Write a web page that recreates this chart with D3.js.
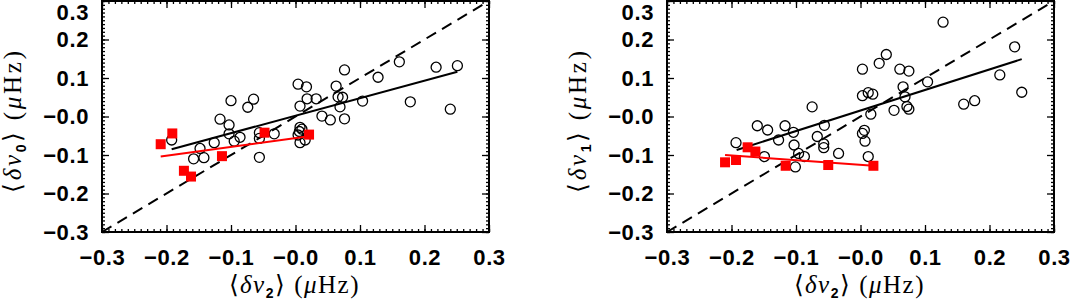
<!DOCTYPE html>
<html>
<head>
<meta charset="utf-8">
<script src="https://cdn.jsdelivr.net/npm/d3@7"></script>
<style>
  body { margin: 0; background: white; }
  svg { display: block; }
</style>
</head>
<body>
<script>
// ---------------------------------------------------------------- DATA ---- //
var tickValues = [-0.3, -0.2, -0.1, 0.0, 0.1, 0.2, 0.3];
var tickLabels = ["\u22120.3", "\u22120.2", "\u22120.1", "\u22120.0", "0.1", "0.2", "0.3"];

// left panel : <dnu2> vs <dnu0>
var leftCircleX = [-0.192, -0.148, -0.158, -0.142, -0.126, -0.117, -0.103, -0.100, -0.103, -0.095,
                   -0.086, -0.074, -0.065, -0.056, -0.056, -0.056, -0.033, 0.004, 0.017, 0.018,
                    0.007, 0.032, 0.041, 0.054, 0.007, 0.006, 0.004, 0.010, 0.007, 0.015,
                    0.063, 0.066, 0.073, 0.069, 0.076, 0.076, 0.104, 0.128, 0.161, 0.178,
                    0.218, 0.240, 0.251];
var leftCircleY = [-0.061, -0.083, -0.110, -0.107, -0.068, -0.007, -0.022, 0.041, -0.045, -0.064,
                   -0.054, 0.024, 0.045, -0.042, -0.057, -0.106, -0.045, 0.084, 0.077, 0.046,
                    0.027, 0.046, 0.001, -0.009, -0.028, -0.039, -0.048, -0.033, -0.068, -0.061,
                    0.079, 0.051, 0.050, 0.025, 0.121, -0.006, 0.040, 0.102, 0.142, 0.038,
                    0.128, 0.019, 0.132];
var leftSquareX = [-0.209, -0.191, -0.173, -0.162, -0.114, -0.048, 0.021];
var leftSquareY = [-0.072, -0.044, -0.141, -0.156, -0.103, -0.042, -0.047];
var leftBlackFitX = [-0.192, 0.251];
var leftBlackFitY = [-0.085, 0.116];
var leftRedFitX = [-0.209, 0.021];
var leftRedFitY = [-0.104, -0.051];

// right panel : <dnu2> vs <dnu1>
var rightCircleX = [-0.193, -0.160, -0.144, -0.149, -0.127, -0.117, -0.104, -0.103, -0.096, -0.087,
                    -0.101, -0.075, -0.067, -0.056, -0.057, -0.057, -0.034, 0.003, 0.003, 0.012,
                     0.019, 0.016, 0.003, 0.006, 0.007, 0.012, 0.029, 0.040, 0.052, 0.061,
                     0.075, 0.066, 0.069, 0.072, 0.075, 0.104, 0.128, 0.160, 0.177, 0.216,
                     0.239, 0.250];
var rightCircleY = [-0.068, -0.024, -0.035, -0.104, -0.061, -0.024, -0.041, -0.074, -0.096, -0.104,
                    -0.131, 0.025, -0.052, -0.023, -0.071, -0.081, -0.096, 0.123, 0.054, 0.062,
                     0.058, 0.006, -0.044, -0.036, -0.064, -0.104, 0.138, 0.161, 0.016, 0.123,
                     0.118, 0.077, 0.051, 0.026, 0.019, 0.090, 0.245, 0.032, 0.041, 0.108,
                     0.181, 0.063];
var rightSquareX = [-0.210, -0.193, -0.175, -0.163, -0.116, -0.050, 0.020];
var rightSquareY = [-0.119, -0.113, -0.080, -0.091, -0.128, -0.126, -0.128];
var rightBlackFitX = [-0.192, 0.250];
var rightBlackFitY = [-0.087, 0.149];
var rightRedFitX = [-0.210, 0.020];
var rightRedFitY = [-0.100, -0.128];

// -------------------------------------------------------------- LAYOUT ---- //
var svg = d3.select("body")
    .append("svg")
    .attr("width", 1071)
    .attr("height", 301);

var top_y = 1, bottom_y = 232;
var labelFont = "'Liberation Sans', Arial, sans-serif";
var titleFont = "'Liberation Serif', 'Times New Roman', serif";

function zip(xs, ys) {
    return xs.map(function(x, i) { return { x: x, y: ys[i] }; });
}

function axisTitle(g, sub) {
    g.append("tspan").text("\u27e8");
    g.append("tspan").text("\u03b4\u03bd").style("font-style", "italic");
    g.append("tspan").text(sub)
        .style("font-family", labelFont)
        .style("font-weight", "bold")
        .style("font-size", "14px")
        .attr("dy", 5);
    g.append("tspan").text("\u27e9 (").attr("dy", -5);
    g.append("tspan").text("\u03bc").style("font-style", "italic");
    g.append("tspan").text("Hz)");
}

function drawPanel(x0, x1, circleX, circleY, squareX, squareY, bfx, bfy, rfx, rfy, ySub)
{
    var x = d3.scaleLinear().domain([-0.3, 0.3]).range([x0, x1]);
    var y = d3.scaleLinear().domain([-0.3, 0.3]).range([bottom_y, top_y]);
    var minor = d3.range(-30, 31).map(function(i) { return i / 100; });

    var g = svg.append("g");

    // minor ticks on all four sides
    g.append("g").attr("transform", "translate(0," + bottom_y + ")")
        .call(d3.axisBottom(x).tickValues(minor).tickSize(-3).tickFormat(""));
    g.append("g").attr("transform", "translate(0," + top_y + ")")
        .call(d3.axisTop(x).tickValues(minor).tickSize(-3).tickFormat(""));
    g.append("g").attr("transform", "translate(" + x0 + ",0)")
        .call(d3.axisLeft(y).tickValues(minor).tickSize(-3).tickFormat(""));
    g.append("g").attr("transform", "translate(" + x1 + ",0)")
        .call(d3.axisRight(y).tickValues(minor).tickSize(-3).tickFormat(""));

    // major ticks
    var fmt = function(d, i) { return tickLabels[i]; };
    g.append("g").attr("transform", "translate(0," + bottom_y + ")")
        .call(d3.axisBottom(x).tickValues(tickValues).tickSizeInner(-7).tickSizeOuter(0)
            .tickPadding(17).tickFormat(fmt));
    g.append("g").attr("transform", "translate(0," + top_y + ")")
        .call(d3.axisTop(x).tickValues(tickValues).tickSizeInner(-7).tickSizeOuter(0).tickFormat(""));
    var yl = g.append("g").attr("transform", "translate(" + x0 + ",0)")
        .call(d3.axisLeft(y).tickValues(tickValues).tickSizeInner(-7).tickSizeOuter(0)
            .tickPadding(13).tickFormat(fmt));
    g.append("g").attr("transform", "translate(" + x1 + ",0)")
        .call(d3.axisRight(y).tickValues(tickValues).tickSizeInner(-7).tickSizeOuter(0).tickFormat(""));

    g.selectAll(".domain").remove();
    g.selectAll(".tick line").attr("stroke", "black").attr("stroke-width", 1.3);
    g.selectAll(".tick text")
        .attr("fill", "black")
        .style("font-family", labelFont)
        .style("font-weight", "bold")
        .style("font-size", "22px")
        .style("letter-spacing", "0.6px");
    yl.selectAll(".tick text").filter(function(d) { return d === 0.3; }).attr("dy", "0.82em");

    // frame
    g.append("rect")
        .attr("x", x0).attr("y", top_y)
        .attr("width", x1 - x0).attr("height", bottom_y - top_y)
        .attr("fill", "none").attr("stroke", "black").attr("stroke-width", 2);

    var line = d3.line()
        .x(function(d) { return x(d.x); })
        .y(function(d) { return y(d.y); });

    // 1:1 line
    g.append("path")
        .attr("d", line(zip([-0.3, 0.3], [-0.3, 0.3])))
        .attr("stroke", "black").attr("stroke-width", 2)
        .attr("stroke-dasharray", "11,7").attr("fill", "none");

    g.selectAll("circle.pt")
        .data(zip(circleX, circleY))
        .enter().append("circle")
        .attr("class", "pt")
        .attr("cx", function(d) { return x(d.x); })
        .attr("cy", function(d) { return y(d.y); })
        .attr("r", 5)
        .attr("fill", "none").attr("stroke", "black").attr("stroke-width", 1.3);

    g.append("path")
        .attr("d", line(zip(bfx, bfy)))
        .attr("stroke", "black").attr("stroke-width", 2).attr("fill", "none");

    g.append("path")
        .attr("d", line(zip(rfx, rfy)))
        .attr("stroke", "#ff0000").attr("stroke-width", 2).attr("fill", "none");

    g.selectAll("rect.sq")
        .data(zip(squareX, squareY))
        .enter().append("rect")
        .attr("class", "sq")
        .attr("x", function(d) { return x(d.x) - 5; })
        .attr("y", function(d) { return y(d.y) - 5; })
        .attr("width", 10).attr("height", 10)
        .attr("fill", "#ff0000");

    // axis titles
    var xt = svg.append("text")
        .attr("x", (x0 + x1) / 2 - 2)
        .attr("y", 293)
        .attr("text-anchor", "middle")
        .attr("textLength", 130)
        .attr("lengthAdjust", "spacing")
        .style("font-family", titleFont)
        .style("font-size", "25px");
    axisTitle(xt, "2");

    var yt = svg.append("text")
        .attr("transform", "translate(" + (x0 - 81) + ",122) rotate(-90)")
        .attr("text-anchor", "middle")
        .attr("textLength", 142)
        .attr("lengthAdjust", "spacing")
        .style("font-family", titleFont)
        .style("font-size", "25px");
    axisTitle(yt, ySub);
}

drawPanel(102, 489, leftCircleX, leftCircleY, leftSquareX, leftSquareY,
          leftBlackFitX, leftBlackFitY, leftRedFitX, leftRedFitY, "0");
drawPanel(667, 1054, rightCircleX, rightCircleY, rightSquareX, rightSquareY,
          rightBlackFitX, rightBlackFitY, rightRedFitX, rightRedFitY, "1");
</script>
</body>
</html>
